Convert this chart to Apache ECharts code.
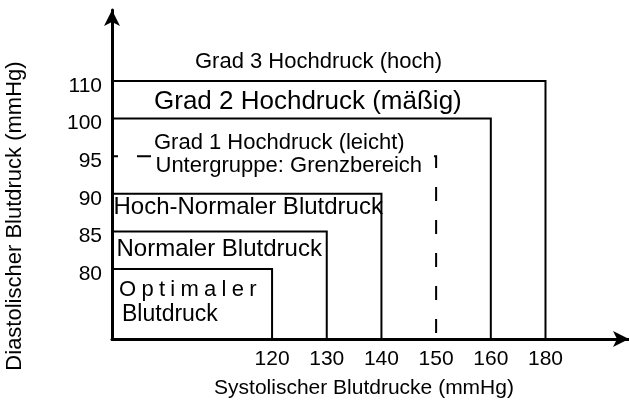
<!DOCTYPE html>
<html>
<head>
<meta charset="utf-8">
<script src="https://cdn.jsdelivr.net/npm/echarts@6/dist/echarts.min.js"></script>
<style>
  html, body { margin: 0; padding: 0; background: #fff; }
  #chart { width: 629px; height: 401px; }
</style>
</head>
<body>
<div id="chart"></div>
<script>
// Blood pressure classes: each class is bounded by a systolic and a diastolic limit.
const sysTicks = [120, 130, 140, 150, 160, 180];
const diaTicks = [80, 85, 90, 95, 100, 110];
const classes = [
  'Optimaler Blutdruck',
  'Normaler Blutdruck',
  'Hoch-Normaler Blutdruck',
  'Grad 1 Hochdruck (leicht)',
  'Grad 2 Hochdruck (mäßig)',
  'Grad 3 Hochdruck (hoch)'
];
const sysLimits = [120, 130, 140, 150, 160, 180];
const diaLimits = [80, 85, 90, 95, 100, 110];
const subgroupLabel = 'Untergruppe: Grenzbereich';
const dashedClass = 3;
const sysTitle = 'Systolischer Blutdrucke (mmHg)';
const diaTitle = 'Diastolischer Blutdruck (mmHg)';

// Both axes are ordinal: each limit sits on its own step of the scale.
const X_MIN = -2.927, X_MAX = 6.527;
const Y_MIN = -1.862, Y_MAX = 6.888;
const FONT = "'Liberation Sans', Arial, Helvetica, sans-serif";

// Label placement relative to each box's top-left corner (pixels).
const labelLayout = [
  { dx: 7, dy: 20.5, size: 22, dx2: 10, dy2: 45.5, size2: 23, spaced: true },
  { dx: 4.5, dy: 18, size: 24 },
  { dx: 1.5, dy: 14, size: 24 },
  { dx: 42, dy: -13, size: 22, dx2: 39.5, dy2: 10, size2: 22 },
  { dx: 42, dy: -17, size: 26 },
  { dx: 83, dy: -19.5, size: 22 }
];

const boxData = classes.map((name, i) => [
  sysTicks.indexOf(sysLimits[i]),
  diaTicks.indexOf(diaLimits[i]),
  i
]);

function textEl(text, x, y, size, extra) {
  return {
    type: 'text',
    z2: 10,
    style: Object.assign({
      text: text, x: x, y: y,
      fill: '#000',
      fontSize: size,
      fontFamily: FONT,
      align: 'left',
      verticalAlign: 'middle'
    }, extra || {})
  };
}

function renderBox(params, api) {
  const i = api.value(2);
  const origin = api.coord([X_MIN, Y_MIN]);
  const corner = api.coord([api.value(0), api.value(1)]);
  const dashed = i === dashedClass;
  const children = [{
    type: 'polyline',
    z2: 1,
    shape: { points: [[origin[0], corner[1]], [corner[0], corner[1]], [corner[0], origin[1]]] },
    style: {
      stroke: '#000',
      lineWidth: 2,
      fill: null,
      lineDash: dashed ? [14, 19] : null,
      lineDashOffset: dashed ? 8 : 0
    }
  }];
  const L = labelLayout[i];
  const left = origin[0];
  const top = corner[1];
  if (L.spaced) {
    const words = classes[i].split(' ');
    const spaced = words[0].split('').map(c => '{a|' + c + '}').join('{g| }');
    children.push(textEl(spaced, left + L.dx, top + L.dy, L.size, {
      rich: {
        a: { fontSize: L.size, fontFamily: FONT, fill: '#000' },
        g: { fontSize: 19, fontFamily: FONT, fill: '#000' }
      }
    }));
    children.push(textEl(words.slice(1).join(' '), left + L.dx2, top + L.dy2, L.size2));
  } else {
    children.push(textEl(classes[i], left + L.dx, top + L.dy, L.size));
  }
  if (dashed) {
    children.push(textEl(subgroupLabel, left + L.dx2, top + L.dy2, L.size2, {
      backgroundColor: '#fff',
      padding: [2, 6, 2, 4]
    }));
  }
  return { type: 'group', children: children };
}

const chart = echarts.init(document.getElementById('chart'), null, { renderer: 'canvas' });
chart.setOption({
  animation: false,
  backgroundColor: '#fff',
  grid: { left: 112, right: -3, top: 10, bottom: 62, containLabel: false },
  xAxis: {
    type: 'value',
    min: X_MIN,
    max: X_MAX,
    splitLine: { show: false },
    axisTick: { show: false },
    axisLine: {
      onZero: false,
      lineStyle: { color: '#000', width: 3 },
      symbol: ['none', 'arrow'],
      symbolSize: [12, 16]
    },
    axisLabel: {
      customValues: sysTicks.map((v, k) => k),
      formatter: v => String(sysTicks[Math.round(v)]),
      color: '#000',
      fontSize: 21,
      fontFamily: FONT,
      margin: 10
    }
  },
  yAxis: {
    type: 'value',
    min: Y_MIN,
    max: Y_MAX,
    splitLine: { show: false },
    axisTick: { show: false },
    axisLine: {
      onZero: false,
      lineStyle: { color: '#000', width: 3 },
      symbol: ['none', 'arrow'],
      symbolSize: [12, 16]
    },
    axisLabel: {
      customValues: diaTicks.map((v, k) => k),
      formatter: v => String(diaTicks[Math.round(v)]),
      color: '#000',
      fontSize: 21,
      fontFamily: FONT,
      margin: 10,
      verticalAlign: 'top',
      lineHeight: 10
    }
  },
  graphic: [
    {
      type: 'text',
      x: 364, y: 388,
      style: { text: sysTitle, fill: '#000', fontSize: 21, fontFamily: FONT, align: 'center', verticalAlign: 'middle' }
    },
    {
      type: 'text',
      x: 15, y: 216,
      rotation: Math.PI / 2,
      style: { text: diaTitle, fill: '#000', fontSize: 22, fontFamily: FONT, align: 'center', verticalAlign: 'middle' }
    }
  ],
  series: [{
    type: 'custom',
    coordinateSystem: 'cartesian2d',
    renderItem: renderBox,
    clip: false,
    data: boxData
  }]
});
</script>
</body>
</html>
